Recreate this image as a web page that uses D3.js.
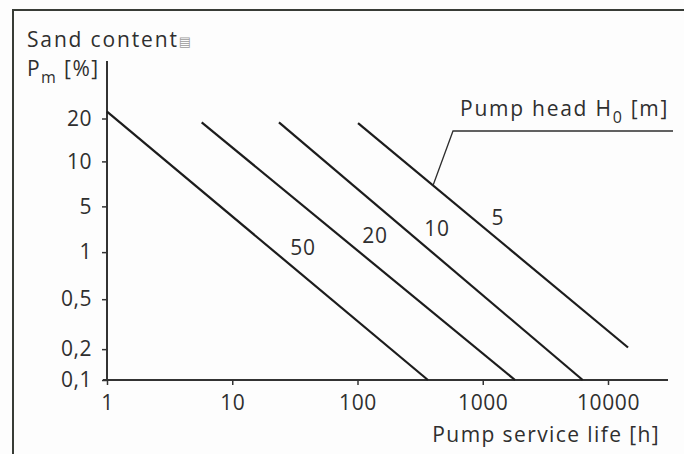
<!DOCTYPE html>
<html>
<head>
<meta charset="utf-8">
<script src="https://cdn.jsdelivr.net/npm/d3@7/dist/d3.min.js"></script>
<style>
  html, body { margin: 0; padding: 0; background: #fdfdfd; }
  svg { display: block; }
  text { font-family: "Open Sans", "Noto Sans", sans-serif; fill: #2f2f2f; font-weight: 500; }
</style>
</head>
<body>
<svg id="chart" width="684" height="454"></svg>
<script>
// Pump head curves: sand content vs. expected service life
const heads      = [50, 20, 10, 5];          // pump head H0 [m]
const startLife  = [1, 5.7, 23.6, 101];      // service life [h] at upper end
const startSand  = [21.6, 19.1, 19.1, 18.9]; // sand content [%] at upper end
const endLife    = [365, 1810, 6280, 14450]; // service life [h] at lower end
const endSand    = [0.1, 0.1, 0.1, 0.21];    // sand content [%] at lower end

const xTicks = [1, 10, 100, 1000, 10000];
const xTickLabels = ["1", "10", "100", "1000", "10000"];
const yTicks = [0.1, 0.2, 0.5, 1, 5, 10, 20];
const yTickLabels = ["0,1", "0,2", "0,5", "1", "5", "10", "20"];

// layout
const svg = d3.select("#chart");
const x0 = 107, x1 = 608;          // 1 h .. 10000 h
const yBottom = 380, yTop = 118.5; // 0,1 % .. 20 %
// the sand-content axis is graduated unevenly; relative stop position of each tick
const yStops = [0, 0.118, 0.309, 0.489, 0.664, 0.836, 1];
const fontSize = 21;
const textColor = "#2f2f2f";

const x = d3.scaleLog().domain([1, 10000]).range([x0, x1]);
const y = d3.scaleLinear()
  .domain(yTicks)
  .range(yStops.map(f => yBottom + (yTop - yBottom) * f));

// frame
svg.append("path")
  .attr("d", "M13,454 L13,10 L684,10")
  .attr("fill", "none")
  .attr("stroke", "#383c36")
  .attr("stroke-width", 2);

// axis lines
const axisColor = "#333";
svg.append("line").attr("x1", x0).attr("x2", x0).attr("y1", 61).attr("y2", yBottom)
  .attr("stroke", axisColor).attr("stroke-width", 2);
svg.append("line").attr("x1", 103).attr("x2", 668).attr("y1", yBottom).attr("y2", yBottom)
  .attr("stroke", axisColor).attr("stroke-width", 2);

// y axis ticks
const yAxis = d3.axisLeft(y)
  .tickValues(yTicks)
  .tickFormat((d, i) => yTickLabels[i])
  .tickSize(5)
  .tickPadding(10);
const gy = svg.append("g").attr("transform", `translate(${x0},0)`).call(yAxis);
gy.select(".domain").remove();
gy.selectAll(".tick line").attr("stroke", axisColor).attr("stroke-width", 1.5);
gy.selectAll(".tick text").attr("font-size", fontSize).attr("fill", textColor)
  .attr("letter-spacing", 0.5)
  .style("font-family", "'Open Sans', sans-serif");

// x axis ticks
const xAxis = d3.axisBottom(x)
  .tickValues(xTicks)
  .tickFormat((d, i) => xTickLabels[i])
  .tickSize(5)
  .tickPadding(10);
const gx = svg.append("g").attr("transform", `translate(0,${yBottom})`).call(xAxis);
gx.select(".domain").remove();
gx.selectAll(".tick line").attr("stroke", axisColor).attr("stroke-width", 1.5);
gx.selectAll(".tick text").attr("font-size", fontSize).attr("fill", textColor)
  .attr("letter-spacing", 0.6)
  .style("font-family", "'Open Sans', sans-serif");

// curves
const curves = heads.map((h, i) => ({
  head: h,
  pts: [[startLife[i], startSand[i]], [endLife[i], endSand[i]]]
}));
const line = d3.line().x(d => x(d[0])).y(d => y(d[1]));
svg.append("g").selectAll("path").data(curves).join("path")
  .attr("d", d => line(d.pts))
  .attr("fill", "none")
  .attr("stroke", "#1c1c1c")
  .attr("stroke-width", 2.2);

// curve labels, placed along each curve and lifted above it
const labelAt = [36.7, 138, 431, 1324];
const labelLift = [28.5, 30, 28.5, 22];
function yOnCurve(c, px) {
  const ax = x(c.pts[0][0]), ay = y(c.pts[0][1]);
  const bx = x(c.pts[1][0]), by = y(c.pts[1][1]);
  return ay + (by - ay) * (px - ax) / (bx - ax);
}
svg.append("g").selectAll("text").data(curves).join("text")
  .attr("x", (d, i) => x(labelAt[i]))
  .attr("y", (d, i) => yOnCurve(d, x(labelAt[i])) - labelLift[i])
  .attr("text-anchor", "middle")
  .attr("dominant-baseline", "central")
  .attr("font-size", fontSize)
  .attr("letter-spacing", 0.8)
  .text(d => d.head);

// leader to the curve family
const c5 = curves[3];
const leaderX = 433;
const leadY = yOnCurve(c5, leaderX);
svg.append("path")
  .attr("d", `M${leaderX},${leadY} L453,131 L673,131`)
  .attr("fill", "none")
  .attr("stroke", "#2e2e2e")
  .attr("stroke-width", 1.3);

const head = svg.append("text").attr("x", 460).attr("y", 116)
  .attr("font-size", fontSize).attr("letter-spacing", 1.75);
head.append("tspan").text("Pump head H");
head.append("tspan").attr("font-size", 16).attr("dy", 7).text("0");
head.append("tspan").attr("dy", -7).text(" [m]");

// axis titles
const yt = svg.append("text").attr("x", 27).attr("y", 47)
  .attr("font-size", fontSize).attr("letter-spacing", 1.85);
yt.append("tspan").text("Sand content");
yt.append("tspan").attr("font-size", 13).attr("fill", "#9a9a9a").attr("letter-spacing", 0)
  .style("font-family", "'DejaVu Sans', sans-serif").attr("dy", -1).text("▤");
const yt2 = svg.append("text").attr("x", 27).attr("y", 76)
  .attr("font-size", fontSize).attr("letter-spacing", 1.4);
yt2.append("tspan").text("P");
yt2.append("tspan").attr("font-size", 16).attr("dy", 7).text("m");
yt2.append("tspan").attr("dy", -7).text(" [%]");

svg.append("text").attr("x", 660).attr("y", 442).attr("text-anchor", "end")
  .attr("font-size", fontSize).attr("letter-spacing", 1.4).text("Pump service life [h]");
</script>
</body>
</html>
